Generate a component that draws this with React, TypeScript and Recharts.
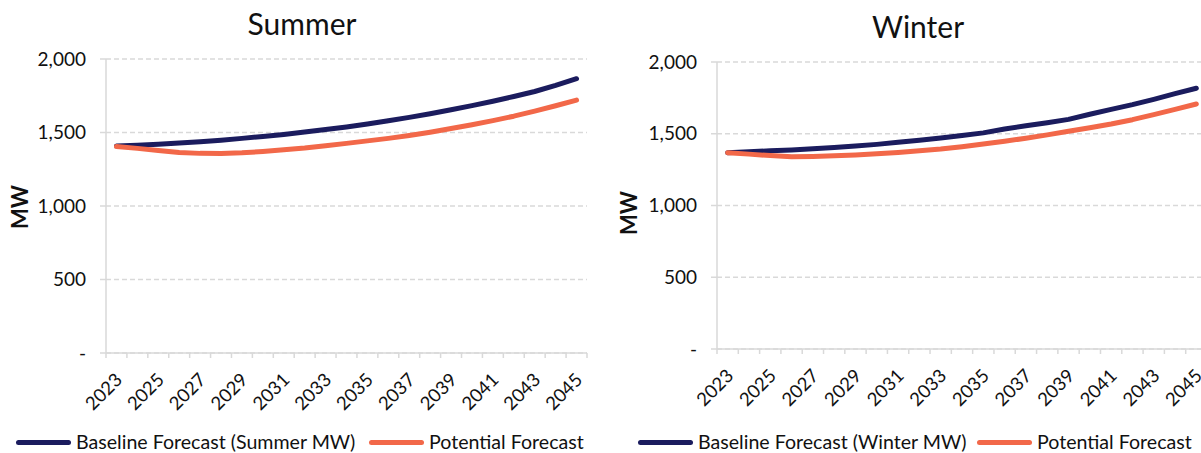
import React from 'react';
import { LineChart, Line, XAxis, YAxis, CartesianGrid } from 'recharts';

const years = ['2023','2024','2025','2026','2027','2028','2029','2030','2031','2032','2033','2034','2035','2036','2037','2038','2039','2040','2041','2042','2043','2044','2045'];

const summerBaseline = [1408,1413,1420,1428,1437,1448,1460,1473,1487,1503,1520,1538,1558,1580,1603,1628,1655,1683,1713,1745,1779,1820,1866];
const summerPotential = [1405,1392,1378,1364,1358,1357,1362,1371,1382,1394,1410,1426,1443,1460,1480,1502,1527,1553,1581,1611,1645,1682,1720];

const winterBaseline = [1368,1375,1381,1387,1395,1404,1414,1426,1440,1455,1470,1488,1506,1533,1556,1577,1600,1636,1670,1703,1740,1780,1817];
const winterPotential = [1368,1358,1348,1340,1342,1346,1352,1360,1370,1381,1393,1410,1428,1448,1469,1492,1517,1542,1568,1598,1633,1670,1707];

const yTicks = [0, 500, 1000, 1500, 2000];

const NAVY = '#1B1C5E';
const ORANGE = '#F26849';
const GRID = '#D9D9D9';
const TEXT = '#111111';
const FONT = 'Lato, "Open Sans", sans-serif';

const fmt = (v: number) => (v === 0 ? '-' : v.toLocaleString('en-US'));

function makeXTick(half: number, count: number) {
  return (props: any) => {
    const { x, y, payload } = props;
    const i = payload && payload.index != null ? payload.index : props.index;
    const ax = x + 7;
    const ay = y + 28;
    return (
      <g>
        <line x1={x - half} x2={x - half} y1={y} y2={y + 5} stroke={GRID} strokeWidth={1.5} />
        {i === count - 1 && (
          <line x1={x + half} x2={x + half} y1={y} y2={y + 5} stroke={GRID} strokeWidth={1.5} />
        )}
        {i % 2 === 0 && (
          <text
            x={ax}
            y={ay}
            textAnchor="end"
            transform={`rotate(-45 ${ax} ${ay})`}
            fontSize={18.5}
            fill={TEXT}
            fontFamily={FONT}
          >
            {payload.value}
          </text>
        )}
      </g>
    );
  };
}

type PanelProps = {
  left: number;
  width: number;
  top: number;
  bottom: number;
  right: number;
  yAxisWidth: number;
  pad: number;
  baseline: number[];
  potential: number[];
};

function Panel(p: PanelProps) {
  const data = years.map((yr, i) => ({ year: yr, base: p.baseline[i], pot: p.potential[i] }));
  return (
    <div style={{ position: 'absolute', left: p.left, top: 0, width: p.width, height: 453, overflow: 'hidden' }}>
      <LineChart
        width={p.width}
        height={453}
        data={data}
        margin={{ top: p.top, right: p.right, bottom: p.bottom, left: 0 }}
      >
        <CartesianGrid vertical={false} stroke={GRID} strokeDasharray="5 3" strokeWidth={1.5} />
        <XAxis
          dataKey="year"
          interval={0}
          padding={{ left: p.pad, right: p.pad }}
          tickLine={false}
          tickSize={0}
          tickMargin={0}
          height={60}
          axisLine={{ stroke: GRID, strokeWidth: 1.5 }}
          tick={makeXTick(p.pad, years.length)}
        />
        <YAxis
          width={p.yAxisWidth}
          domain={[0, 2000]}
          ticks={yTicks}
          interval={0}
          tickFormatter={fmt}
          axisLine={{ stroke: GRID, strokeWidth: 1.5 }}
          tickLine={{ stroke: GRID, strokeWidth: 1.5 }}
          tickSize={6}
          tickMargin={14}
          tick={{ fontSize: 19, fill: TEXT, fontFamily: FONT }}
        />
        <Line
          type="linear"
          dataKey="base"
          stroke={NAVY}
          strokeWidth={5}
          strokeLinecap="round"
          strokeLinejoin="round"
          dot={false}
          isAnimationActive={false}
        />
        <Line
          type="linear"
          dataKey="pot"
          stroke={ORANGE}
          strokeWidth={5}
          strokeLinecap="round"
          strokeLinejoin="round"
          dot={false}
          isAnimationActive={false}
        />
      </LineChart>
    </div>
  );
}

function Title({ text, cx, top }: { text: string; cx: number; top: number }) {
  return (
    <div
      style={{
        position: 'absolute',
        left: cx - 150,
        top,
        width: 300,
        height: 30,
        lineHeight: '30px',
        textAlign: 'center',
        fontFamily: FONT,
        fontSize: 30,
        color: TEXT,
      }}
    >
      {text}
    </div>
  );
}

function AxisTitle({ cx, cy }: { cx: number; cy: number }) {
  return (
    <div
      style={{
        position: 'absolute',
        left: cx - 30,
        top: cy - 12,
        width: 60,
        height: 24,
        lineHeight: '24px',
        textAlign: 'center',
        fontFamily: FONT,
        fontWeight: 700,
        fontSize: 22,
        color: TEXT,
        transform: 'rotate(-90deg)',
      }}
    >
      MW
    </div>
  );
}

function LegendItem({ x, cy, color, label }: { x: number; cy: number; color: string; label: string }) {
  return (
    <div style={{ position: 'absolute', left: x, top: cy - 10, height: 20, display: 'flex', alignItems: 'center', whiteSpace: 'nowrap' }}>
      <div style={{ width: 55, height: 5, borderRadius: 3, background: color, marginRight: 5 }} />
      <span style={{ display: 'inline-block', height: 20, fontFamily: FONT, fontSize: 19.6, color: TEXT, lineHeight: '20px' }}>{label}</span>
    </div>
  );
}

export default function App() {
  return (
    <div
      style={{
        position: 'absolute',
        left: 0,
        top: 0,
        width: 1201,
        height: 453,
        overflow: 'hidden',
        background: '#ffffff',
      }}
    >
      <Panel
        left={0}
        width={600}
        top={59}
        bottom={40}
        right={13}
        yAxisWidth={106}
        pad={10.46}
        baseline={summerBaseline}
        potential={summerPotential}
      />
      <Panel
        left={600}
        width={601}
        top={62}
        bottom={44}
        right={-6}
        yAxisWidth={117}
        pad={10.65}
        baseline={winterBaseline}
        potential={winterPotential}
      />
      <Title text="Summer" cx={302} top={8} />
      <Title text="Winter" cx={918} top={11} />
      <AxisTitle cx={20} cy={207} />
      <AxisTitle cx={629} cy={213} />
      <LegendItem x={16} cy={442} color={NAVY} label="Baseline Forecast (Summer MW)" />
      <LegendItem x={369} cy={442} color={ORANGE} label="Potential Forecast" />
      <LegendItem x={638} cy={442} color={NAVY} label="Baseline Forecast (Winter MW)" />
      <LegendItem x={977} cy={442} color={ORANGE} label="Potential Forecast" />
    </div>
  );
}
